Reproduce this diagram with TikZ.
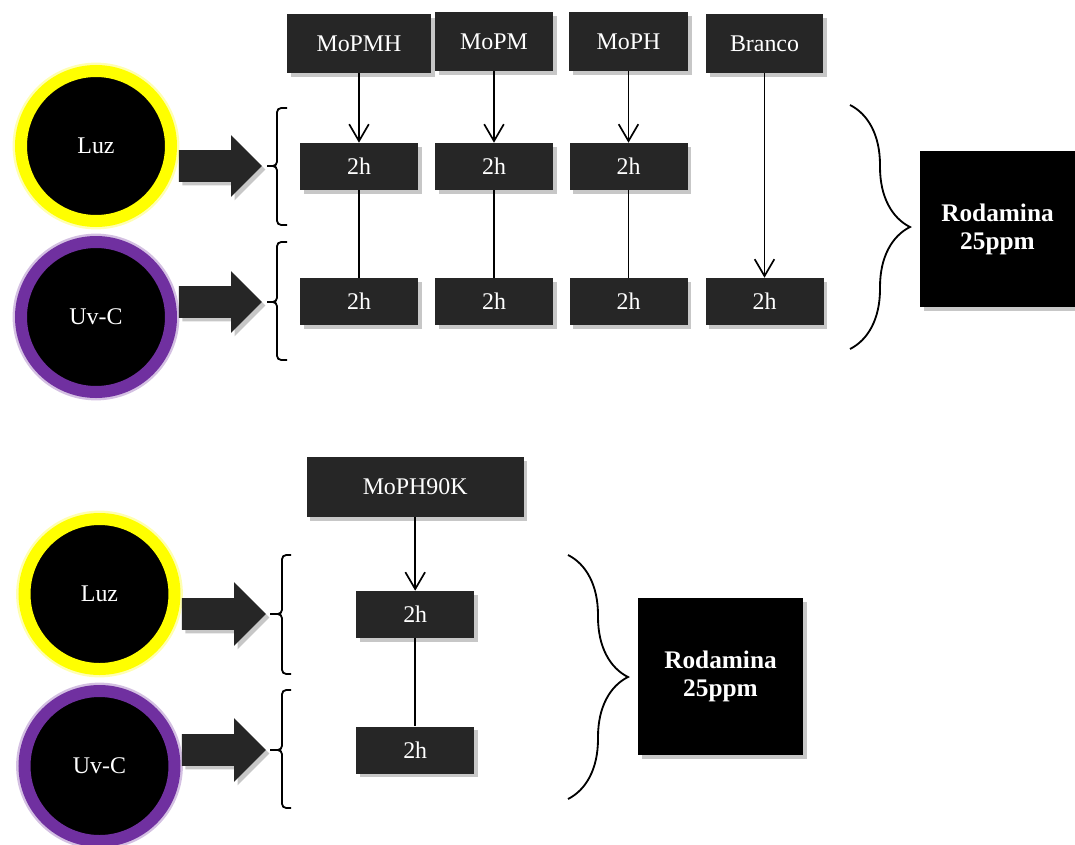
\documentclass[tikz,border=0pt]{standalone}
\usepackage{fontspec}
\setmainfont{Liberation Serif}
\usetikzlibrary{shapes.arrows,shadows,decorations.pathreplacing,arrows.meta}
\definecolor{boxgray}{HTML}{262626}
\definecolor{uvpurple}{HTML}{7030A0}
\definecolor{luzyellow}{HTML}{FFFF00}

\begin{document}
\begin{tikzpicture}[every node/.style={font=\fontsize{17}{19}\selectfont, align=center, text=white, inner sep=0pt},
  >={Straight Barb[length=12pt,width=14pt]},
  shade/.style={drop shadow={shadow xshift=2.5pt, shadow yshift=-2.5pt, opacity=0.22, fill=black}},
  lamp/.style={circle, fill=black, draw=#1, line width=0.3cm, minimum size=3.75cm,
    preaction={draw=#1, draw opacity=0.3, line width=0.42cm}},
  sample/.style={fill=boxgray, minimum height=1.475cm, shade},
  timebox/.style={fill=boxgray, minimum width=2.95cm, minimum height=1.175cm, shade},
  fatarrow/.style={single arrow, fill=boxgray, single arrow head extend=0.375cm, inner xsep=0pt, inner ysep=0.3875cm,
    minimum height=2.075cm, shade},
  result/.style={fill=black, font=\fontsize{18}{20}\selectfont\bfseries, shade},
  flow/.style={line width=1.2pt},
  holder/.style={line width=1.3pt, rounded corners=3pt},
  bracket/.style={decorate, decoration={brace, amplitude=#1}, line width=1.3pt}]
\useasboundingbox (0,0) rectangle (26.875,-21.1);

\node[lamp=luzyellow] (luzA) at (2.4,-3.65) {Luz};
\node[lamp=uvpurple] (uvcA) at (2.4,-7.925) {Uv-C};
\node[fatarrow] (goA) at (5.3125,-4.15) {};
\node[fatarrow] (goB) at (5.3125,-7.55) {};
\draw[holder] (7.175,-2.7) -| (6.925,-4.15) -- (6.675,-4.15);
\draw[holder] (7.175,-5.625) -| (6.925,-4.15) -- (6.675,-4.15);
\draw[holder] (7.175,-6.05) -| (6.925,-7.55) -- (6.675,-7.55);
\draw[holder] (7.175,-9.0) -| (6.925,-7.55) -- (6.675,-7.55);

\node[sample, minimum width=3.6cm] (mopmh) at (8.975,-1.0875) {MoPMH};
\node[sample, minimum width=2.95cm] (mopm) at (12.35,-1.0375) {MoPM};
\node[sample, minimum width=2.975cm] (moph) at (15.7125,-1.0375) {MoPH};
\node[sample, minimum width=2.925cm] (branco) at (19.1125,-1.0875) {Branco};

\node[timebox] (luzmopmh) at (8.975,-4.1625) {2h};
\node[timebox] (luzmopm) at (12.35,-4.1625) {2h};
\node[timebox] (luzmoph) at (15.7125,-4.1625) {2h};
\node[timebox] (uvcmopmh) at (8.975,-7.5375) {2h};
\node[timebox] (uvcmopm) at (12.35,-7.5375) {2h};
\node[timebox] (uvcmoph) at (15.7125,-7.5375) {2h};
\node[timebox] (uvcbranco) at (19.1125,-7.5375) {2h};

\draw[flow, ->] (mopmh) -- (luzmopmh);
\draw[flow, ->] (mopm) -- (luzmopm);
\draw[flow, ->] (moph) -- (luzmoph);
\draw[flow, ->] (branco) -- (uvcbranco);
\draw[flow] (luzmopmh) -- (uvcmopmh);
\draw[flow] (luzmopm) -- (uvcmopm);
\draw[flow] (luzmoph) -- (uvcmoph);

\draw[bracket=1.5cm] (21.25,-2.625) -- (21.25,-8.725);
\node[result, minimum width=3.875cm, minimum height=3.9cm] (rodA) at (24.9375,-5.725) {Rodamina\\25ppm};

\node[lamp=luzyellow] (luzB) at (2.4875,-14.85) {Luz};
\node[lamp=uvpurple] (uvcB) at (2.4875,-19.15) {Uv-C};
\node[fatarrow, minimum height=2.1cm, single arrow head extend=0.4cm] (goC) at (5.4,-15.35) {};
\node[fatarrow, minimum height=2.1cm, single arrow head extend=0.4cm] (goD) at (5.4,-18.75) {};
\draw[holder] (7.275,-13.875) -| (7.05,-15.35) -- (6.75,-15.35);
\draw[holder] (7.275,-16.85) -| (7.05,-15.35) -- (6.75,-15.35);
\draw[holder] (7.275,-17.25) -| (7.05,-18.75) -- (6.75,-18.75);
\draw[holder] (7.275,-20.2) -| (7.05,-18.75) -- (6.75,-18.75);

\node[sample, minimum width=5.425cm, minimum height=1.5cm] (moph90k) at (10.38,-12.175) {MoPH90K};
\node[timebox] (luzmoph90k) at (10.38,-15.3625) {2h};
\node[timebox] (uvcmoph90k) at (10.38,-18.75) {2h};
\draw[flow, ->] (moph90k) -- (luzmoph90k);
\draw[flow] (luzmoph90k) -- (uvcmoph90k);

\draw[bracket=1.5cm] (14.2,-13.875) -- (14.2,-19.975);
\node[result, minimum width=4.125cm, minimum height=3.925cm] (rodB) at (18.0125,-16.9125) {Rodamina\\25ppm};
\end{tikzpicture}
\end{document}
